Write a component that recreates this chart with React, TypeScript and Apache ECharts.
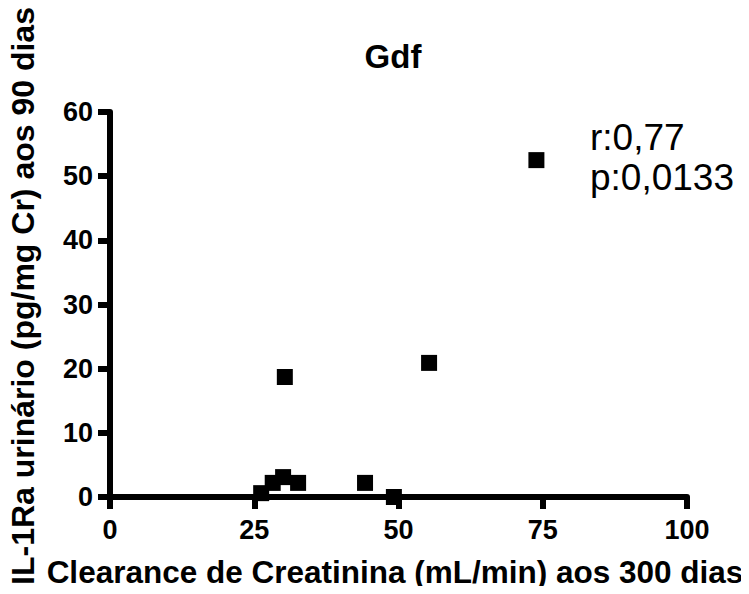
import React, { useEffect, useRef } from "react";
import * as echarts from "echarts";

const clearance = [26.2, 28.2, 30.0, 30.3, 32.6, 44.2, 49.2, 55.3, 73.9];
const il1ra = [0.6, 2.2, 3.1, 18.7, 2.2, 2.2, 0.0, 20.9, 52.5];
const xTicks = [0, 25, 50, 75, 100];
const yTicks = [0, 10, 20, 30, 40, 50, 60];
const titleText = "Gdf";
const xName = "Clearance de Creatinina (mL/min) aos 300 dias";
const yName = "IL-1Ra urinário (pg/mg Cr) aos 90 dias";
const statLines = ["r:0,77", "p:0,0133"];

const FONT = "Arial, 'Liberation Sans', Helvetica, sans-serif";

export default function App() {
  const ref = useRef<HTMLDivElement>(null);
  useEffect(() => {
    if (!ref.current) return;
    const chart = echarts.init(ref.current, undefined, { renderer: "svg" });
    chart.setOption({
      animation: false,
      backgroundColor: "#fff",
      grid: { left: 110, right: 62, top: 112, bottom: 97, containLabel: false },
      xAxis: {
        type: "value",
        min: xTicks[0],
        max: xTicks[xTicks.length - 1],
        interval: 25,
        axisLine: { show: true, onZero: false, lineStyle: { color: "#000", width: 6 } },
        axisTick: { show: true, inside: false, length: 12, lineStyle: { color: "#000", width: 6 } },
        splitLine: { show: false },
        axisLabel: {
          margin: 19,
          color: "#000",
          fontFamily: FONT,
          fontWeight: "bold",
          fontSize: 27,
          showMinLabel: true,
          showMaxLabel: true,
        },
      },
      yAxis: {
        type: "value",
        min: yTicks[0],
        max: yTicks[yTicks.length - 1],
        interval: 10,
        axisLine: { show: true, onZero: false, lineStyle: { color: "#000", width: 6 } },
        axisTick: { show: true, inside: false, length: 12, lineStyle: { color: "#000", width: 6 } },
        splitLine: { show: false },
        axisLabel: {
          margin: 17,
          color: "#000",
          fontFamily: FONT,
          fontWeight: "bold",
          fontSize: 27,
        },
      },
      series: [
        {
          type: "scatter",
          symbol: "rect",
          symbolSize: 16,
          itemStyle: { color: "#000", opacity: 1 },
          data: clearance.map((x, i) => [x, il1ra[i]]),
          z: 5,
        },
      ],
      graphic: [
        {
          type: "text",
          x: 393,
          y: 56,
          style: {
            text: titleText,
            fill: "#000",
            fontFamily: FONT,
            fontWeight: "bold",
            fontSize: 33,
            textAlign: "center",
            textVerticalAlign: "middle",
          },
        },
        {
          type: "text",
          x: 395,
          y: 572,
          style: {
            text: xName,
            fill: "#000",
            fontFamily: FONT,
            fontWeight: "bold",
            fontSize: 31.5,
            textAlign: "center",
            textVerticalAlign: "middle",
          },
        },
        {
          type: "text",
          x: 23,
          y: 296,
          rotation: Math.PI / 2,
          style: {
            text: yName,
            fill: "#000",
            fontFamily: FONT,
            fontWeight: "bold",
            fontSize: 32,
            textAlign: "center",
            textVerticalAlign: "middle",
          },
        },
        {
          type: "text",
          x: 590,
          y: 137,
          style: {
            text: statLines[0],
            fill: "#000",
            fontFamily: FONT,
            fontSize: 37,
            textAlign: "left",
            textVerticalAlign: "middle",
          },
        },
        {
          type: "text",
          x: 590,
          y: 177,
          style: {
            text: statLines[1],
            fill: "#000",
            fontFamily: FONT,
            fontSize: 37,
            textAlign: "left",
            textVerticalAlign: "middle",
          },
        },
      ],
    });
    return () => chart.dispose();
  }, []);
  return <div ref={ref} style={{ width: 749, height: 594, margin: -8 }} />;
}
